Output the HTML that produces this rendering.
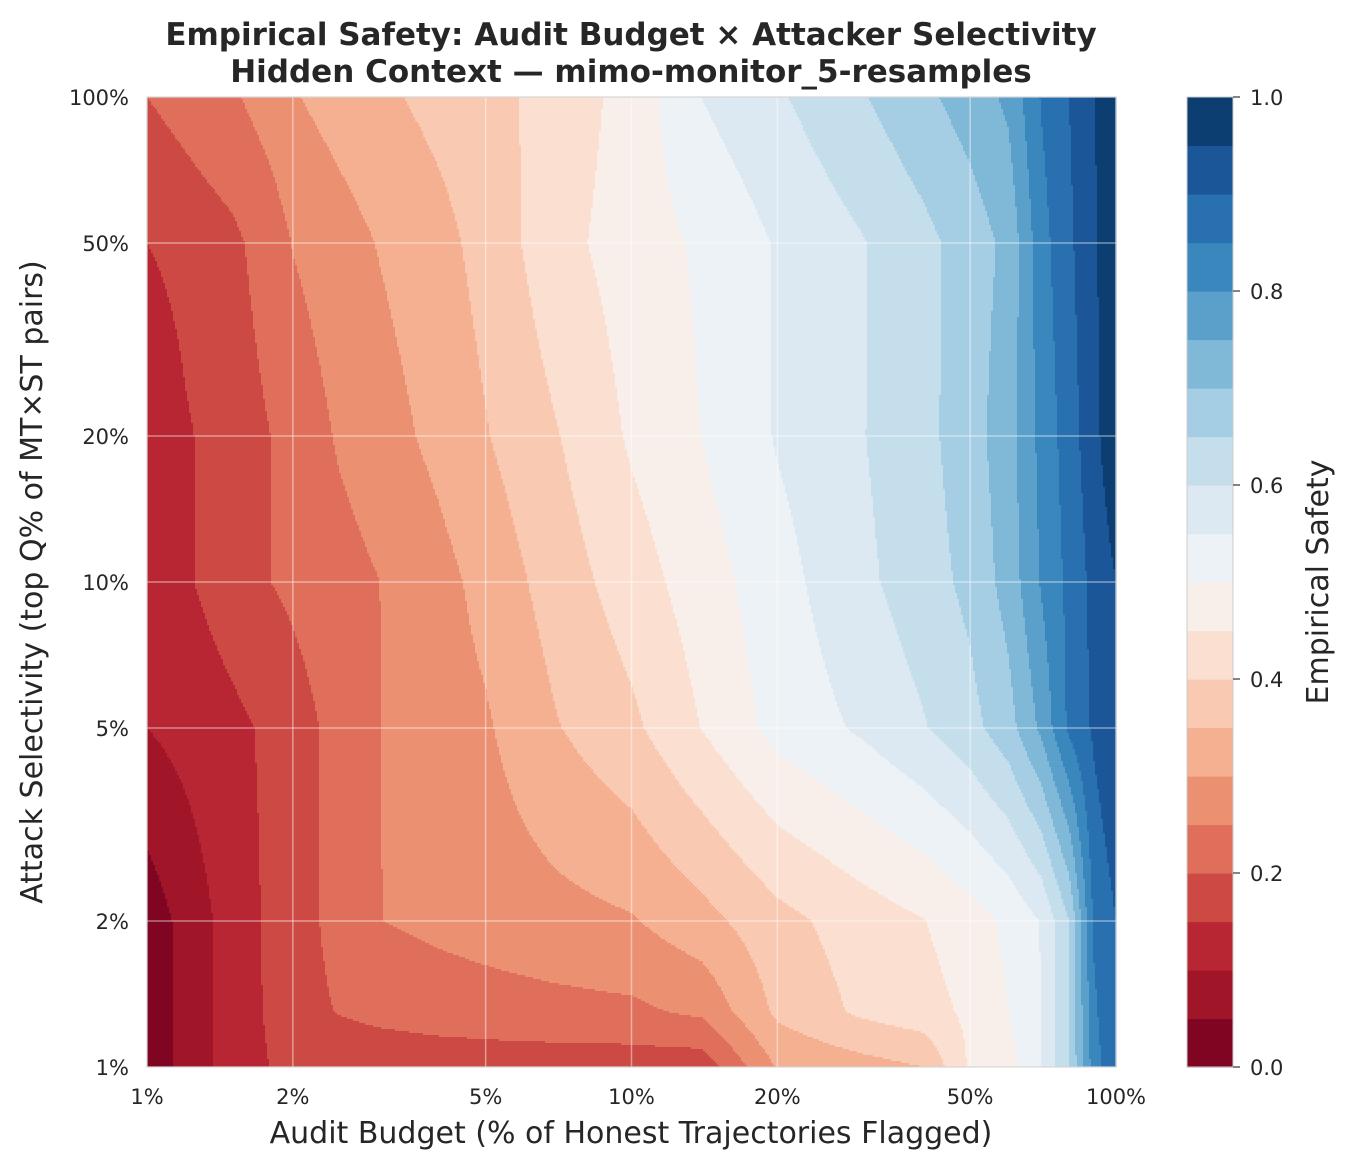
<!DOCTYPE html>
<html><head><meta charset="utf-8">
<style>
body{margin:0;background:#fff;font-family:"Liberation Sans","DejaVu Sans",sans-serif;}
svg text{font-family:"DejaVu Sans","Liberation Sans",sans-serif;fill:#262626;}
</style></head>
<body>
<svg id="chart" width="1348" height="1165" viewBox="0 0 1348 1165" xmlns="http://www.w3.org/2000/svg">
<text x="631" y="45" text-anchor="middle" font-size="31" font-weight="bold">Empirical Safety: Audit Budget × Attacker Selectivity</text>
<text x="631" y="82" text-anchor="middle" font-size="31" font-weight="bold">Hidden Context — mimo-monitor_5-resamples</text>
<g id="plot"></g>
<g id="grid"></g>
<rect x="147" y="97" width="969" height="970" fill="none" stroke="#ccc" stroke-width="1"/>
<g id="xticks"></g>
<g id="yticks"></g>
<text x="631" y="1143" text-anchor="middle" font-size="30">Audit Budget (% of Honest Trajectories Flagged)</text>
<text x="0" y="0" transform="translate(42,582) rotate(-90)" text-anchor="middle" font-size="30">Attack Selectivity (top Q% of MT×ST pairs)</text>
<g id="cbar"></g>
<text x="0" y="0" transform="translate(1328,582) rotate(-90)" text-anchor="middle" font-size="30">Empirical Safety</text>
</svg>
<script>
// ---- data ----
const auditBudget = [1,1.2,1.5,1.8,2,2.5,3,4,5,7,10,14,20,30,40,50,60,70,80,90,100];
const selectivity = [1,1.3,2,5,10,20,50,100];
const safety_q1   = [0.02,0.066,0.124,0.151,0.154,0.159,0.163,0.168,0.17,0.172,0.172,0.17,0.305,0.331,0.35,0.458,0.48,0.547,0.65,0.825,0.9];
const safety_q1_3 = [0.02,0.066,0.124,0.157,0.18,0.203,0.215,0.225,0.23,0.235,0.24,0.26,0.36,0.41,0.43,0.46,0.5,0.55,0.65,0.84,0.9];
const safety_q2   = [0.02,0.066,0.124,0.159,0.178,0.217,0.249,0.261,0.269,0.283,0.296,0.333,0.384,0.424,0.448,0.479,0.51,0.552,0.65,0.858,0.9];
const safety_q5   = [0.10,0.117,0.138,0.159,0.178,0.217,0.249,0.275,0.294,0.347,0.389,0.452,0.517,0.558,0.596,0.633,0.68,0.76,0.86,0.908,0.95];
const safety_q10  = [0.10,0.144,0.176,0.2,0.21,0.232,0.249,0.283,0.316,0.373,0.426,0.476,0.531,0.589,0.627,0.663,0.72,0.804,0.863,0.915,0.95];
const safety_q20  = [0.10,0.144,0.176,0.2,0.218,0.256,0.277,0.314,0.347,0.397,0.457,0.501,0.554,0.598,0.635,0.678,0.73,0.814,0.875,0.935,0.99];
const safety_q50  = [0.15,0.168,0.189,0.223,0.252,0.279,0.302,0.334,0.367,0.433,0.474,0.508,0.554,0.597,0.635,0.673,0.713,0.83,0.89,0.943,0.99];
const safety_q100 = [0.20,0.219,0.243,0.274,0.296,0.321,0.339,0.365,0.383,0.419,0.469,0.551,0.593,0.646,0.688,0.723,0.76,0.853,0.9,0.948,0.99];
const safetyRows = [safety_q1,safety_q1_3,safety_q2,safety_q5,safety_q10,safety_q20,safety_q50,safety_q100];
const xTickLabels = ["1%","2%","5%","10%","20%","50%","100%"];
const xTickValues = [1,2,5,10,20,50,100];
const yTickLabels = ["1%","2%","5%","10%","20%","50%","100%"];
const yTickValues = [1,2,5,10,20,50,100];
const cbarTickLabels = ["0.0","0.2","0.4","0.6","0.8","1.0"];
const cbarTickValues = [0,0.2,0.4,0.6,0.8,1.0];

const palette = ["#7f0523","#a01527","#b72632","#cc4a43","#df6f5a","#ec9072","#f5b092","#f9c9b1","#fbe0d2","#f8efea","#ecf2f5","#dce9f2","#c4deec","#a5cde3","#80b9d8","#5aa0cb","#3a87bd","#2870b0","#1b5798","#0d3e72"];

const NS="http://www.w3.org/2000/svg";
const X0=147,W=969,Y0=97,H=970;
const xScale=v=>X0+Math.log10(v)/2*W;
const yScale=v=>Y0+H-Math.log10(v)/2*H;
const cbY=v=>97+(1-v)*970;
function mk(tag,attrs,parent){const e=document.createElementNS(NS,tag);for(const k in attrs)e.setAttribute(k,attrs[k]);parent.appendChild(e);return e;}

const lx=auditBudget.map(v=>Math.log10(v)), ly=selectivity.map(v=>Math.log10(v));
function seg(arr,v){let i=0;while(i<arr.length-2&&v>arr[i+1])i++;let t=(v-arr[i])/(arr[i+1]-arr[i]);t=Math.max(0,Math.min(1,t));return [i,t];}
function valueAt(px,py){
  const u=(px-X0)/W*2, w=(Y0+H-py)/H*2;
  const [i,tx]=seg(lx,u),[j,ty]=seg(ly,w);
  const a=safetyRows[j][i]*(1-tx)+safetyRows[j][i+1]*tx;
  const b=safetyRows[j+1][i]*(1-tx)+safetyRows[j+1][i+1]*tx;
  return a*(1-ty)+b*ty;
}
const band=v=>Math.max(0,Math.min(19,Math.floor(v/0.05)));
const plot=document.getElementById('plot');
const S=2;
for(let py=Y0;py<Y0+H;py+=S){
  let start=X0,cur=band(valueAt(X0+1,py+S/2));
  for(let px=X0;;px+=S){
    const end=px>=X0+W;
    const b=end?-1:band(valueAt(Math.min(px+S/2,X0+W-0.5),py+S/2));
    if(b!==cur){
      const r=mk('rect',{x:start,y:py,width:Math.min(px,X0+W)-start+0.6,height:Math.min(S+0.6,Y0+H-py),fill:palette[cur]},plot);
      
      
      start=px;cur=b;
    }
    if(end)break;
  }
}
// grid
const grid=document.getElementById('grid');
xTickValues.forEach(v=>{const l=mk('line',{x1:xScale(v),x2:xScale(v),y1:Y0,y2:Y0+H,stroke:'#fff','stroke-opacity':0.45,'stroke-width':1.5},grid);

});
yTickValues.forEach(v=>{const l=mk('line',{x1:X0,x2:X0+W,y1:yScale(v),y2:yScale(v),stroke:'#fff','stroke-opacity':0.45,'stroke-width':1.5},grid);

});
// ticks
const xt=document.getElementById('xticks');
xTickValues.forEach((v,k)=>{const t=mk('text',{x:xScale(v),y:1104,'text-anchor':'middle','font-size':21},xt);t.textContent=xTickLabels[k];

});
const yt=document.getElementById('yticks');
yTickValues.forEach((v,k)=>{const t=mk('text',{x:129,y:yScale(v)+8,'text-anchor':'end','font-size':21},yt);t.textContent=yTickLabels[k];

});
// colorbar
const cb=document.getElementById('cbar');
palette.forEach((c,k)=>{const r=mk('rect',{x:1187,y:cbY((k+1)*0.05),width:46,height:970/20+0.6,fill:c},cb);

});
mk('rect',{x:1187,y:97,width:46,height:970,fill:'none',stroke:'#ccc'},cb);
cbarTickValues.forEach((v,k)=>{mk('line',{x1:1233,x2:1240,y1:cbY(v),y2:cbY(v),stroke:'#333','stroke-width':1.2},cb);
const t=mk('text',{x:1250,y:cbY(v)+8,'font-size':21},cb);t.textContent=cbarTickLabels[k];

});
</script>
</body></html>
